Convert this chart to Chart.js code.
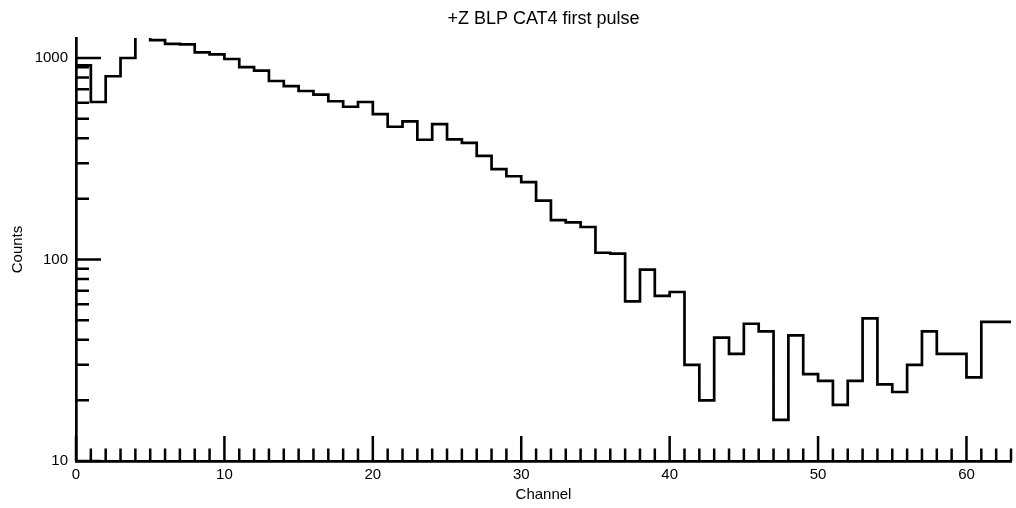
<!DOCTYPE html>
<html>
<head>
<meta charset="utf-8">
<script src="https://cdn.jsdelivr.net/npm/chart.js@4/dist/chart.umd.min.js"></script>
<style>
  html, body { margin: 0; padding: 0; background: #fff; }
  #wrap { width: 1016px; height: 508px; }
</style>
</head>
<body>
<div id="wrap"><canvas id="c" width="1016" height="508"></canvas></div>
<script>
// ---- data ----
const channels = [0,1,2,3,4,5,6,7,8,9,10,11,12,13,14,15,16,17,18,19,20,21,22,23,24,25,26,27,28,29,30,31,32,33,34,35,36,37,38,39,40,41,42,43,44,45,46,47,48,49,50,51,52,53,54,55,56,57,58,59,60,61,62];
const counts = [920,605,812,1000,1350,1228,1175,1170,1067,1043,989,902,865,769,726,686,658,610,573,605,
                527,456,485,393,470,395,379,327,281,259,242,196,157,153,145,108,107,62,89,66,
                69,30,20,41,34,48,44,16,42,27,25,19,25,51,24,22,30,44,34,34,26,49,49];
const xLabelTicks = [0,10,20,30,40,50,60];
const yLabelTicks = [10,100,1000];
const titleText = '+Z BLP CAT4 first pulse';
const xTitle = 'Channel';
const yTitle = 'Counts';

// histogram as stepped line: left edge of each bin, plus the closing right edge
const points = channels.map((ch, i) => ({ x: ch, y: counts[i] }));
points.push({ x: channels[channels.length - 1] + 1, y: counts[counts.length - 1] });

const FONT = 'Liberation Sans, Arial, Helvetica, sans-serif';

const inwardTicks = {
  id: 'inwardTicks',
  afterDatasetsDraw(chart) {
    const { ctx, chartArea, scales } = chart;
    const xs = scales.x, ys = scales.y;
    ctx.save();
    ctx.strokeStyle = '#000';
    ctx.lineWidth = 2.5;
    ctx.beginPath();
    for (let v = Math.ceil(xs.min); v <= xs.max; v++) {
      const px = xs.getPixelForValue(v);
      const len = (v % 10 === 0) ? 25 : 12.5;
      ctx.moveTo(px, chartArea.bottom);
      ctx.lineTo(px, chartArea.bottom - len);
    }
    for (let dec = 10; dec <= ys.max; dec *= 10) {
      for (let m = 1; m <= 9; m++) {
        const v = dec * m;
        if (v < ys.min || v > ys.max) continue;
        const py = ys.getPixelForValue(v);
        const len = (m === 1) ? 25 : 13;
        ctx.moveTo(chartArea.left, py);
        ctx.lineTo(chartArea.left + len, py);
      }
    }
    ctx.stroke();
    ctx.restore();
  }
};

new Chart(document.getElementById('c'), {
  type: 'line',
  data: {
    datasets: [{
      data: points,
      stepped: 'before',
      borderColor: '#000',
      borderWidth: 2.7,
      pointRadius: 0,
      fill: false,
      clip: 0
    }]
  },
  options: {
    responsive: false,
    animation: false,
    layout: { padding: { left: 0, right: 3, top: 0, bottom: 0 } },
    plugins: {
      legend: { display: false },
      tooltip: { enabled: false },
      title: {
        display: true,
        text: titleText,
        color: '#000',
        fullSize: false,
        font: { family: FONT, size: 18, weight: 'normal' },
        padding: { top: 8, bottom: 8.4 }
      }
    },
    scales: {
      x: {
        type: 'linear',
        min: 0,
        max: 63,
        afterFit: s => { s.height = 47; },
        grid: { display: false, drawTicks: false },
        border: { display: true, color: '#000', width: 2.7 },
        ticks: {
          stepSize: 10,
          autoSkip: false,
          maxRotation: 0,
          padding: 5,
          color: '#000',
          font: { family: FONT, size: 15 },
          callback: v => xLabelTicks.includes(v) ? String(v) : ''
        },
        title: {
          display: true,
          text: xTitle,
          color: '#000',
          font: { family: FONT, size: 15 },
          padding: { top: 0, bottom: 4 }
        }
      },
      y: {
        type: 'logarithmic',
        min: 10,
        max: 1257,
        afterFit: s => { s.width = 76; },
        grid: { display: false, drawTicks: false },
        border: { display: true, color: '#000', width: 2.7 },
        ticks: {
          autoSkip: false,
          padding: 8,
          color: '#000',
          font: { family: FONT, size: 15 },
          callback: v => yLabelTicks.some(t => Math.abs(t - v) < 1e-6) ? String(Math.round(v)) : ''
        },
        title: {
          display: true,
          text: yTitle,
          color: '#000',
          font: { family: FONT, size: 15 },
          padding: { top: 9, bottom: 0 }
        }
      }
    }
  },
  plugins: [inwardTicks]
});
</script>
</body>
</html>
